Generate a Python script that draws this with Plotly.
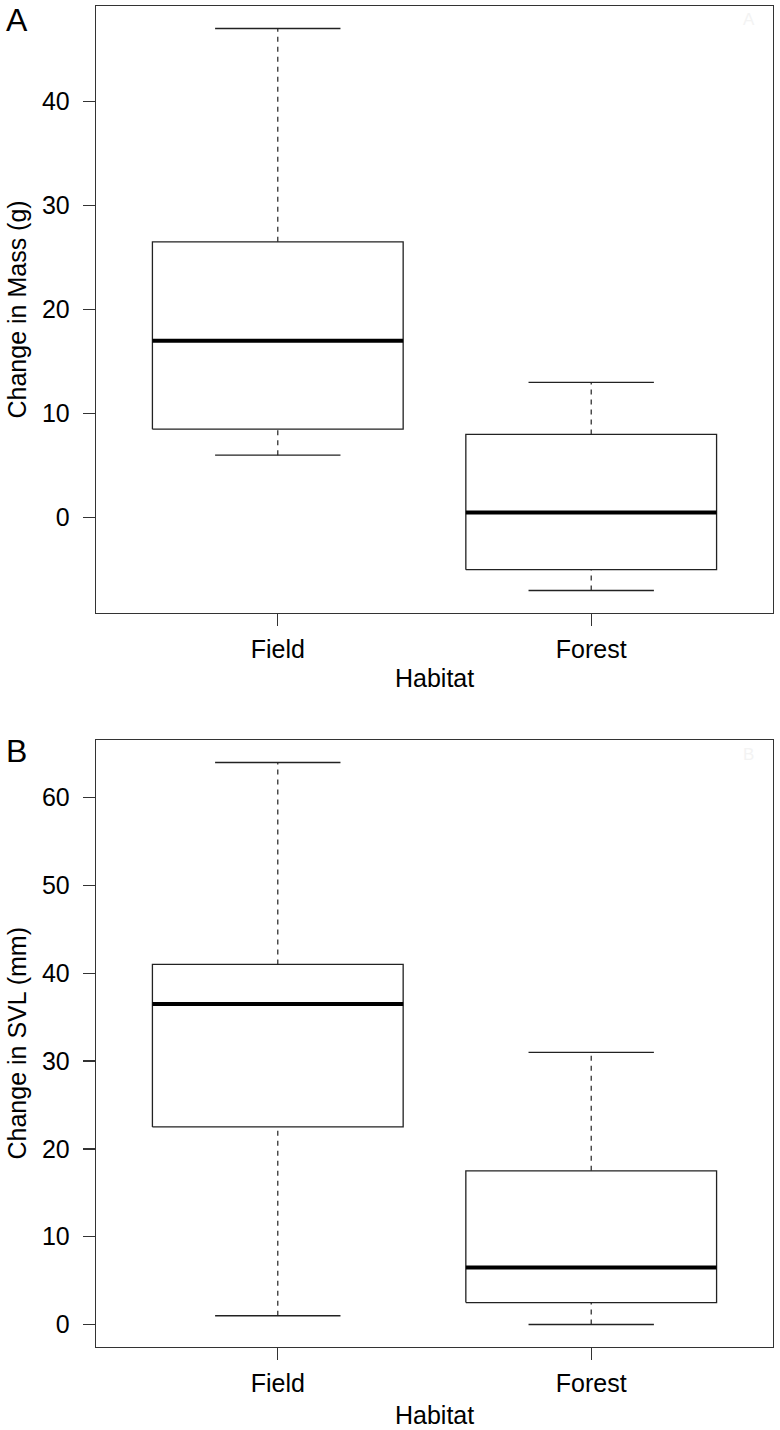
import plotly.graph_objects as go

# ---- data ----
habitats = ["Field", "Forest"]
positions = [1, 2]

mass_low = [6, -7]
mass_q1 = [8.5, -5]
mass_median = [17, 0.5]
mass_q3 = [26.5, 8]
mass_high = [47, 13]

svl_low = [1, 0]
svl_q1 = [22.5, 2.5]
svl_median = [36.5, 6.5]
svl_q3 = [41, 17.5]
svl_high = [64, 31]

mass_ticks = [0, 10, 20, 30, 40]
svl_ticks = [0, 10, 20, 30, 40, 50, 60]

# ---- layout constants ----
W, H = 780, 1430
ML, MR, MT, MB = 96, 7, 6, 83
PH = H - MT - MB
FONT = "Liberation Sans, Arial, Helvetica, sans-serif"
FS = 25
LINE = "#222222"
AX = "#333333"
BOX_HALF = 0.4
CAP_HALF = 0.2


def py(p):
    """pixel row -> paper y"""
    return (H - MB - p) / PH


def px(p):
    return (p - ML) / (W - ML - MR)


fig = go.Figure()


def add_boxes(low, q1, med, q3, high, xa, ya):
    for x, lo, a, m, b, hi in zip(positions, low, q1, med, q3, high):
        # box
        fig.add_trace(go.Scatter(
            x=[x - BOX_HALF, x + BOX_HALF, x + BOX_HALF, x - BOX_HALF, x - BOX_HALF],
            y=[a, a, b, b, a], mode="lines",
            line=dict(color=LINE, width=1.3), xaxis=xa, yaxis=ya,
            showlegend=False, hoverinfo="skip"))
        # median
        fig.add_trace(go.Scatter(
            x=[x - BOX_HALF, x + BOX_HALF], y=[m, m], mode="lines",
            line=dict(color="#000000", width=4), xaxis=xa, yaxis=ya,
            showlegend=False, hoverinfo="skip"))
        # whiskers (dashed)
        for y0, y1 in ((b, hi), (lo, a)):
            fig.add_trace(go.Scatter(
                x=[x, x], y=[y0, y1], mode="lines",
                line=dict(color=LINE, width=1.2, dash="5px,5px"),
                xaxis=xa, yaxis=ya, showlegend=False, hoverinfo="skip"))
        # caps
        for yy in (lo, hi):
            fig.add_trace(go.Scatter(
                x=[x - CAP_HALF, x + CAP_HALF], y=[yy, yy], mode="lines",
                line=dict(color=LINE, width=1.3), xaxis=xa, yaxis=ya,
                showlegend=False, hoverinfo="skip"))


add_boxes(mass_low, mass_q1, mass_median, mass_q3, mass_high, "x", "y")
add_boxes(svl_low, svl_q1, svl_median, svl_q3, svl_high, "x2", "y2")


def yr(lo, hi):
    d = (hi - lo) * 0.04
    return [lo - d, hi + d]


axis_common = dict(
    showline=True, mirror=True, linecolor=AX, linewidth=1.3,
    showgrid=False, zeroline=False, ticks="outside", ticklen=12,
    tickwidth=1.3, tickcolor=AX,
    tickfont=dict(family=FONT, size=FS, color="#000000"),
)

domA = [py(613), 1.0]
domB = [0.0, py(740)]

fig.update_layout(
    width=W, height=H,
    margin=dict(l=ML, r=MR, t=MT, b=MB),
    paper_bgcolor="white", plot_bgcolor="white",
    showlegend=False,
    xaxis=dict(domain=[0, 1], anchor="y", range=[0.42, 2.58],
               tickvals=positions, ticktext=habitats,
               ticklabelstandoff=2, **axis_common),
    yaxis=dict(domain=domA, anchor="x",
               range=yr(min(mass_low), max(mass_high)),
               tickvals=mass_ticks, ticktext=[str(t) for t in mass_ticks],
               ticklabelstandoff=8, **axis_common),
    xaxis2=dict(domain=[0, 1], anchor="y2", range=[0.42, 2.58],
                tickvals=positions, ticktext=habitats,
                ticklabelstandoff=2, **axis_common),
    yaxis2=dict(domain=domB, anchor="x2",
                range=yr(min(svl_low), max(svl_high)),
                tickvals=svl_ticks, ticktext=[str(t) for t in svl_ticks],
                ticklabelstandoff=8, **axis_common),
)

ann = []
# axis titles
ann.append(dict(text="Habitat", x=0.5, y=py(678), xref="paper", yref="paper",
                xanchor="center", yanchor="middle", showarrow=False,
                font=dict(family=FONT, size=FS, color="#000")))
ann.append(dict(text="Habitat", x=0.5, y=py(1415), xref="paper", yref="paper",
                xanchor="center", yanchor="middle", showarrow=False,
                font=dict(family=FONT, size=FS, color="#000")))
ann.append(dict(text="Change in Mass (g)", x=px(16), y=py(309.5), xref="paper",
                yref="paper", xanchor="center", yanchor="middle", textangle=-90,
                showarrow=False, font=dict(family=FONT, size=FS, color="#000")))
ann.append(dict(text="Change in SVL (mm)", x=px(16), y=py(1043.5), xref="paper",
                yref="paper", xanchor="center", yanchor="middle", textangle=-90,
                showarrow=False, font=dict(family=FONT, size=FS, color="#000")))
# panel letters
ann.append(dict(text="A", x=px(4), y=py(20), xref="paper", yref="paper",
                xanchor="left", yanchor="middle", showarrow=False,
                font=dict(family=FONT, size=32, color="#000")))
ann.append(dict(text="B", x=px(4), y=py(751), xref="paper", yref="paper",
                xanchor="left", yanchor="middle", showarrow=False,
                font=dict(family=FONT, size=32, color="#000")))
# faint corner letters
ann.append(dict(text="A", x=px(749), y=py(19), xref="paper", yref="paper",
                xanchor="center", yanchor="middle", showarrow=False,
                font=dict(family=FONT, size=17, color="#f3f3f3")))
ann.append(dict(text="B", x=px(748), y=py(754), xref="paper", yref="paper",
                xanchor="center", yanchor="middle", showarrow=False,
                font=dict(family=FONT, size=17, color="#f3f3f3")))
fig.update_layout(annotations=ann)

fig.write_html("out.html", config={"displayModeBar": False, "staticPlot": True})

# remove default browser body margin so the figure sits at the page origin
with open("out.html", "r", encoding="utf-8") as f:
    html = f.read()
html = html.replace("<body>", '<body style="margin:0;padding:0;overflow:hidden">', 1)
with open("out.html", "w", encoding="utf-8") as f:
    f.write(html)
